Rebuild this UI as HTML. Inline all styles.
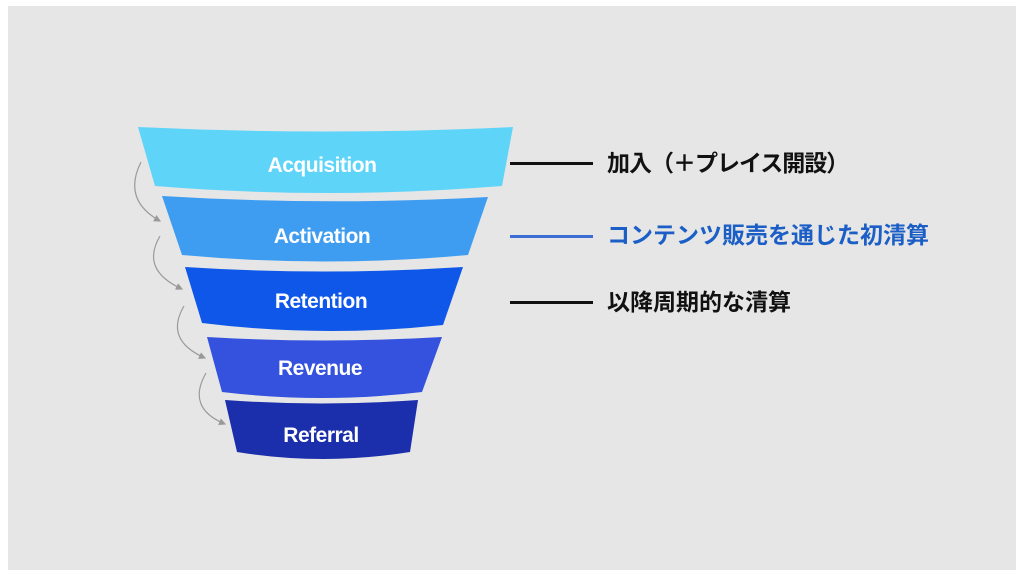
<!DOCTYPE html>
<html><head><meta charset="utf-8"><style>
html,body{margin:0;padding:0;background:#fff;}
#c{position:relative;width:1024px;height:576px;overflow:hidden;background:#fff;}
#bg{position:absolute;left:8px;top:6px;width:1008px;height:564px;background:#e6e6e6;}
.t{position:absolute;left:607px;font-family:"Liberation Sans","Noto Sans CJK JP",sans-serif;font-weight:bold;font-size:23px;color:#111;white-space:nowrap;line-height:1;}
.l{position:absolute;left:510px;width:83px;height:2.5px;background:#111;}
</style></head><body><div id="c"><div id="bg"></div>
<svg width="1024" height="576" style="position:absolute;left:0;top:0">
<defs><marker id="a" markerWidth="6" markerHeight="6" refX="5" refY="3" orient="auto"><path d="M0,0 L6,3 L0,6z" fill="#999"/></marker></defs>
<g font-family="Liberation Sans, sans-serif" font-weight="bold" font-size="21" fill="#fff" text-anchor="middle" letter-spacing="-0.5">
<path d="M138,127 Q326,136 513,127 L502,186 Q328,200 155,186Z" fill="#5fd4f9"/>
<path d="M162,196 Q325,206 488,197 L468,255 Q325,268 182,255Z" fill="#3f9df1"/>
<path d="M185,267 Q324,276 463,267 L443,325 Q322,338 202,323Z" fill="#0f57e9"/>
<path d="M207,337 Q324,344 442,337 L422,392 Q322,404 222,392Z" fill="#3452de"/>
<path d="M225,400 Q322,407 418,400 L410,452 Q323,466 237,452Z" fill="#1b2eab"/>
<text x="322" y="172">Acquisition</text>
<text x="322" y="243">Activation</text>
<text x="321" y="308">Retention</text>
<text x="320" y="375">Revenue</text>
<text x="321" y="442">Referral</text>
</g>
<g fill="none" stroke="#9a9a9a" stroke-width="1.2" marker-end="url(#a)">
<path d="M141,162 Q122,200 160,221"/>
<path d="M160,236 Q140,270 182,289"/>
<path d="M184,306 Q164,340 205,358"/>
<path d="M206,373 Q186,408 225,424"/>
</g>
</svg>
<div class="l" style="top:162px"></div><div class="t" style="top:152px;letter-spacing:-1px">加入（＋プレイス開設）</div>
<div class="l" style="top:235px;background:#3b6fd4"></div><div class="t" style="top:224px;color:#1b5fc6">コンテンツ販売を通じた初清算</div>
<div class="l" style="top:301px"></div><div class="t" style="top:291px">以降周期的な清算</div>
</div></body></html>
